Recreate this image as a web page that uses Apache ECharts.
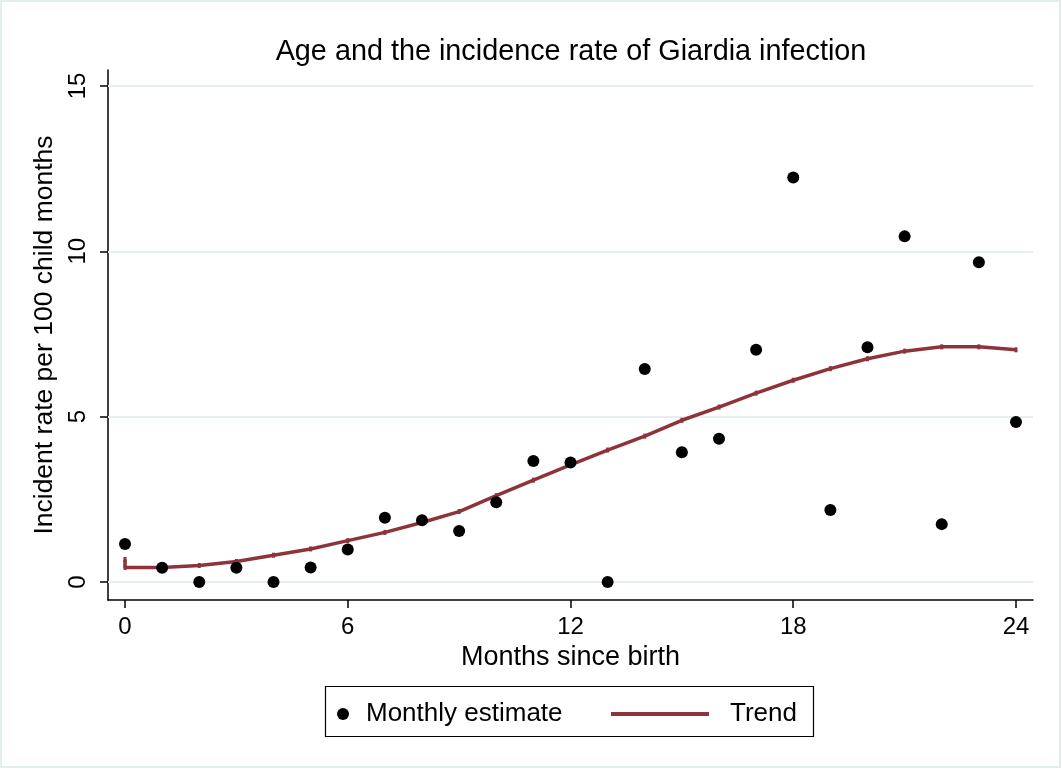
<!DOCTYPE html>
<html>
<head>
<meta charset="utf-8">
<script src="https://cdn.jsdelivr.net/npm/echarts@6/dist/echarts.min.js"></script>
<style>
html,body{margin:0;padding:0;background:#fff;}
#chart{width:1062px;height:769px;}
</style>
</head>
<body>
<div id="chart"></div>
<script>
// Data
const months = [0,1,2,3,4,5,6,7,8,9,10,11,12,13,14,15,16,17,18,19,20,21,22,23,24];
const monthlyEstimate = [1.15,0.43,0,0.43,0,0.44,0.98,1.94,1.87,1.54,2.41,3.66,3.61,0,6.44,3.92,4.33,7.02,12.23,2.18,7.10,10.45,1.75,9.67,4.84];
const trendX = [0,0,1,2,3,4,5,6,7,8,9,10,11,12,13,14,15,16,17,18,19,20,21,22,23,24];
const trendY = [0.68,0.44,0.44,0.50,0.62,0.81,1.00,1.25,1.50,1.80,2.13,2.61,3.08,3.54,3.99,4.41,4.89,5.29,5.71,6.10,6.45,6.75,6.98,7.11,7.11,7.02];
const xTicks = [0,6,12,18,24];
const yTicks = [0,5,10,15];

const FONT = 'Liberation Sans';
const RED = '#8d343a';

const chart = echarts.init(document.getElementById('chart'), null, {renderer:'canvas'});
chart.setOption({
  animation:false,
  backgroundColor:'#fff',
  textStyle:{fontFamily:FONT},
  title:{
    text:'Age and the incidence rate of Giardia infection',
    left:566, top:33, textAlign:'center',
    textStyle:{fontFamily:FONT,fontSize:28.8,fontWeight:'normal',color:'#000'}
  },
  graphic:[
    {type:'rect',shape:{x:1,y:1,width:1059,height:766},style:{fill:'none',stroke:'#e3ecef',lineWidth:2},silent:true},
    {type:'rect',shape:{x:325.5,y:686.5,width:488,height:50},style:{fill:'#fff',stroke:'#000',lineWidth:1.2},silent:true,z:-1}
  ],
  legend:[
    {data:[{name:'Monthly estimate',icon:'circle'}],left:337,top:701,padding:0,itemWidth:12,itemHeight:12,
     textStyle:{fontFamily:FONT,fontSize:26,color:'#000',padding:[0,0,0,12]}},
    {data:[{name:'Trend',icon:'rect'}],left:611,top:701,padding:0,itemWidth:98,itemHeight:4,
     textStyle:{fontFamily:FONT,fontSize:26,color:'#000',padding:[0,0,0,16]}}
  ],
  grid:{left:108,right:29,top:70,bottom:169,containLabel:false},
  xAxis:{
    type:'value',min:-0.458,max:24.458,
    name:'Months since birth',nameLocation:'middle',nameGap:42,
    nameTextStyle:{fontFamily:FONT,fontSize:27,color:'#000'},
    axisLine:{show:true,onZero:false,lineStyle:{color:'#000',width:1.5}},
    axisTick:{show:true,length:8,customValues:xTicks,lineStyle:{color:'#000',width:1.5}},
    axisLabel:{customValues:xTicks,fontFamily:FONT,fontSize:24,color:'#000',margin:15},
    splitLine:{show:false}
  },
  yAxis:{
    type:'value',min:-0.544,max:15.48,
    name:'Incident rate per 100 child months',nameLocation:'middle',nameGap:48,
    nameTextStyle:{fontFamily:FONT,fontSize:26.5,color:'#000'},
    axisLine:{show:true,onZero:false,lineStyle:{color:'#000',width:1.5}},
    axisTick:{show:true,length:8,customValues:yTicks,lineStyle:{color:'#000',width:1.5}},
    axisLabel:{customValues:yTicks,rotate:90,fontFamily:FONT,fontSize:24,color:'#000',margin:18},
    splitLine:{show:false}
  },
  series:[
    {
      name:'Trend',type:'line',
      data:trendX.map((x,i)=>[x,trendY[i]]),
      symbol:'rect',symbolSize:[3,5],showSymbol:true,
      itemStyle:{color:RED},
      lineStyle:{color:RED,width:3.5},
      z:3,
      markLine:{
        silent:true,symbol:'none',label:{show:false},
        lineStyle:{color:'#e6eef0',width:2,type:'solid'},
        data:yTicks.map(v=>({yAxis:v})),
        z:1
      }
    },
    {
      name:'Monthly estimate',type:'scatter',
      data:months.map((x,i)=>[x,monthlyEstimate[i]]),
      symbol:'circle',symbolSize:12,
      itemStyle:{color:'#000',opacity:1},
      z:4
    }
  ]
});
</script>
</body>
</html>
